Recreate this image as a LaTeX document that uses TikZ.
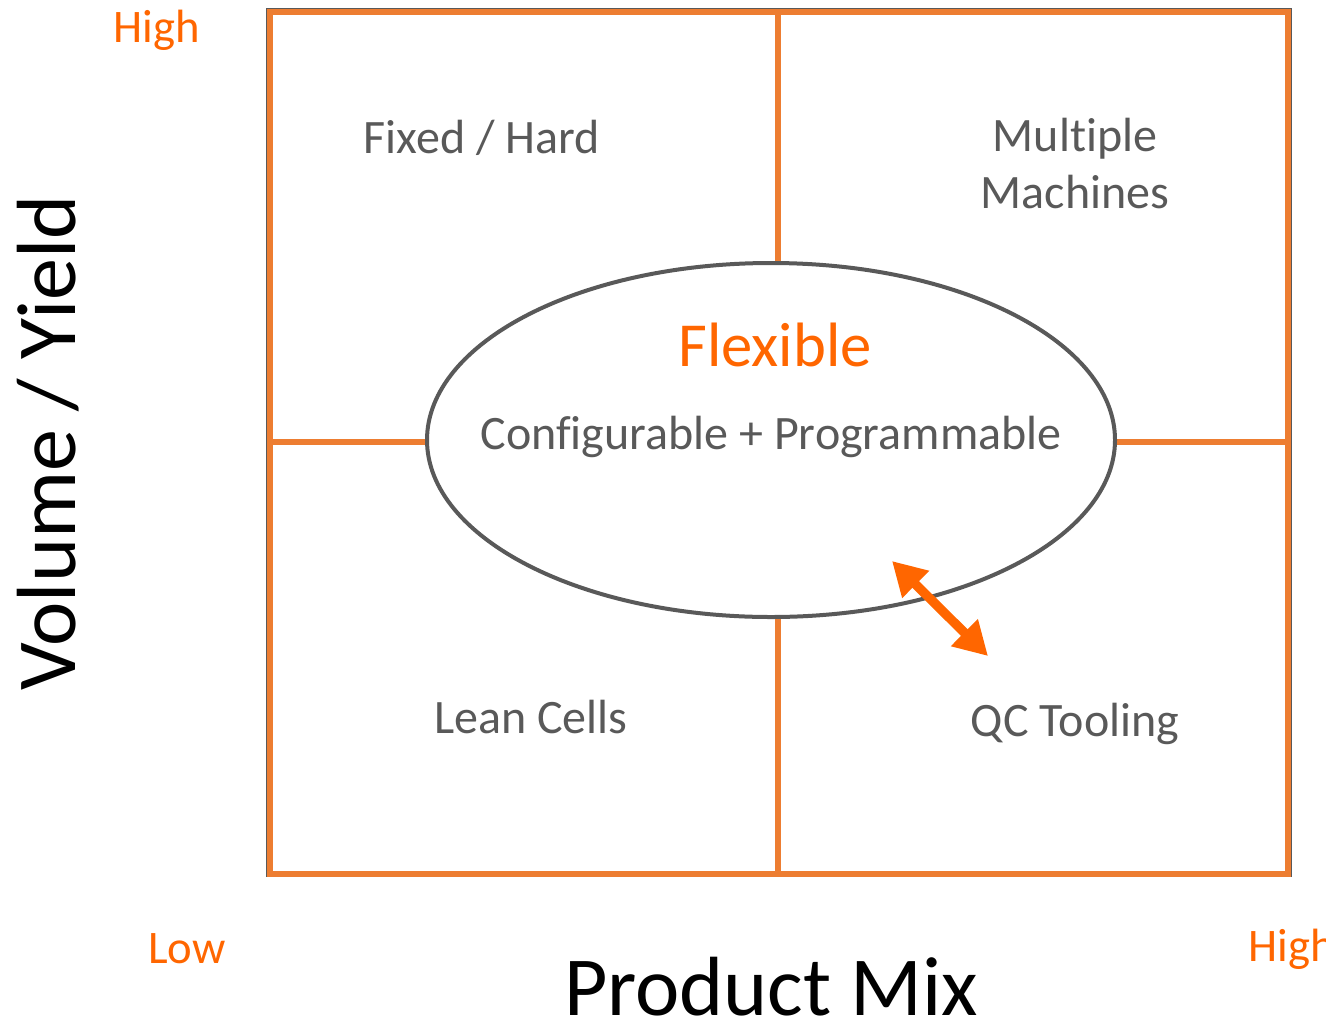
\documentclass[tikz,border=0pt]{standalone}
\usepackage{fontspec}
\setmainfont{Carlito}[Ligatures=CommonOff]
\usetikzlibrary{arrows.meta, shapes.geometric}
\definecolor{cFrame}{RGB}{237,125,49}
\definecolor{cOrange}{RGB}{255,102,0}
\definecolor{cGray}{RGB}{89,89,89}
\tikzset{
	quadline/.style={draw=cFrame, line width=4.5pt},
	lbl/.style={text=cGray, font=\fontsize{36pt}{42.75pt}\selectfont, anchor=base, inner sep=0pt},
	endlbl/.style={text=cOrange, font=\fontsize{35pt}{42pt}\selectfont, anchor=base, inner sep=0pt},
	axislbl/.style={text=black, font=\fontsize{63pt}{75pt}\selectfont, anchor=base, inner sep=0pt},
	flexzone/.style={ellipse, draw=cGray, line width=3pt, fill=white, minimum width=516pt, minimum height=265.5pt, inner sep=0pt},
	linkarrow/.style={{Triangle[length=25pt,width=27pt]}-{Triangle[length=25pt,width=27pt]}, draw=cOrange, line width=7pt},
}
\begin{document}
\begin{tikzpicture}[x=0.75pt, y=-0.75pt]
	\clip (0,0) rectangle (1326,1021);
	% quadrant frame
	\draw[cGray, line width=2pt] (267,9) rectangle (1291,876);
	\draw[quadline] (270,12) rectangle (1288,874);
	\draw[quadline] (778,12) -- (778,874);
	\draw[quadline] (270,442) -- (1288,442);
	% centre zone
	\node[flexzone] (flex) at (771,440) {};
	\node[text=cOrange, font=\fontsize{47pt}{56pt}\selectfont, anchor=base, inner sep=0pt] (flexT) at (775,366) {Flexible};
	\node[lbl] (flexS) at (771,449) {Configurable + Programmable};
	% quadrant labels
	\node[lbl] (fixed) at (482,153) {Fixed / Hard};
	\node[lbl, anchor=center, align=center] (multi) at (1075,164) {Multiple\\Machines};
	\node[lbl] (lean) at (531,733) {Lean Cells};
	\node[lbl] (qc) at (1075,736) {QC Tooling};
	% link between zone and QC
	\coordinate (qcA) at (892,561);
	\coordinate (qcB) at (988,656);
	\draw[linkarrow] (qcA) -- (qcB);
	% axes
	\node[endlbl] (yHigh) at (157,42) {High};
	\node[endlbl] (xLow) at (187,963) {Low};
	\node[endlbl, anchor=base west] (xHigh) at (1248,961) {High};
	\node[axislbl] (xAxis) at (771,1015) {Product Mix};
	\node[axislbl, rotate=90] (yAxis) at (75,443) {Volume / Yield};
\end{tikzpicture}
\end{document}
